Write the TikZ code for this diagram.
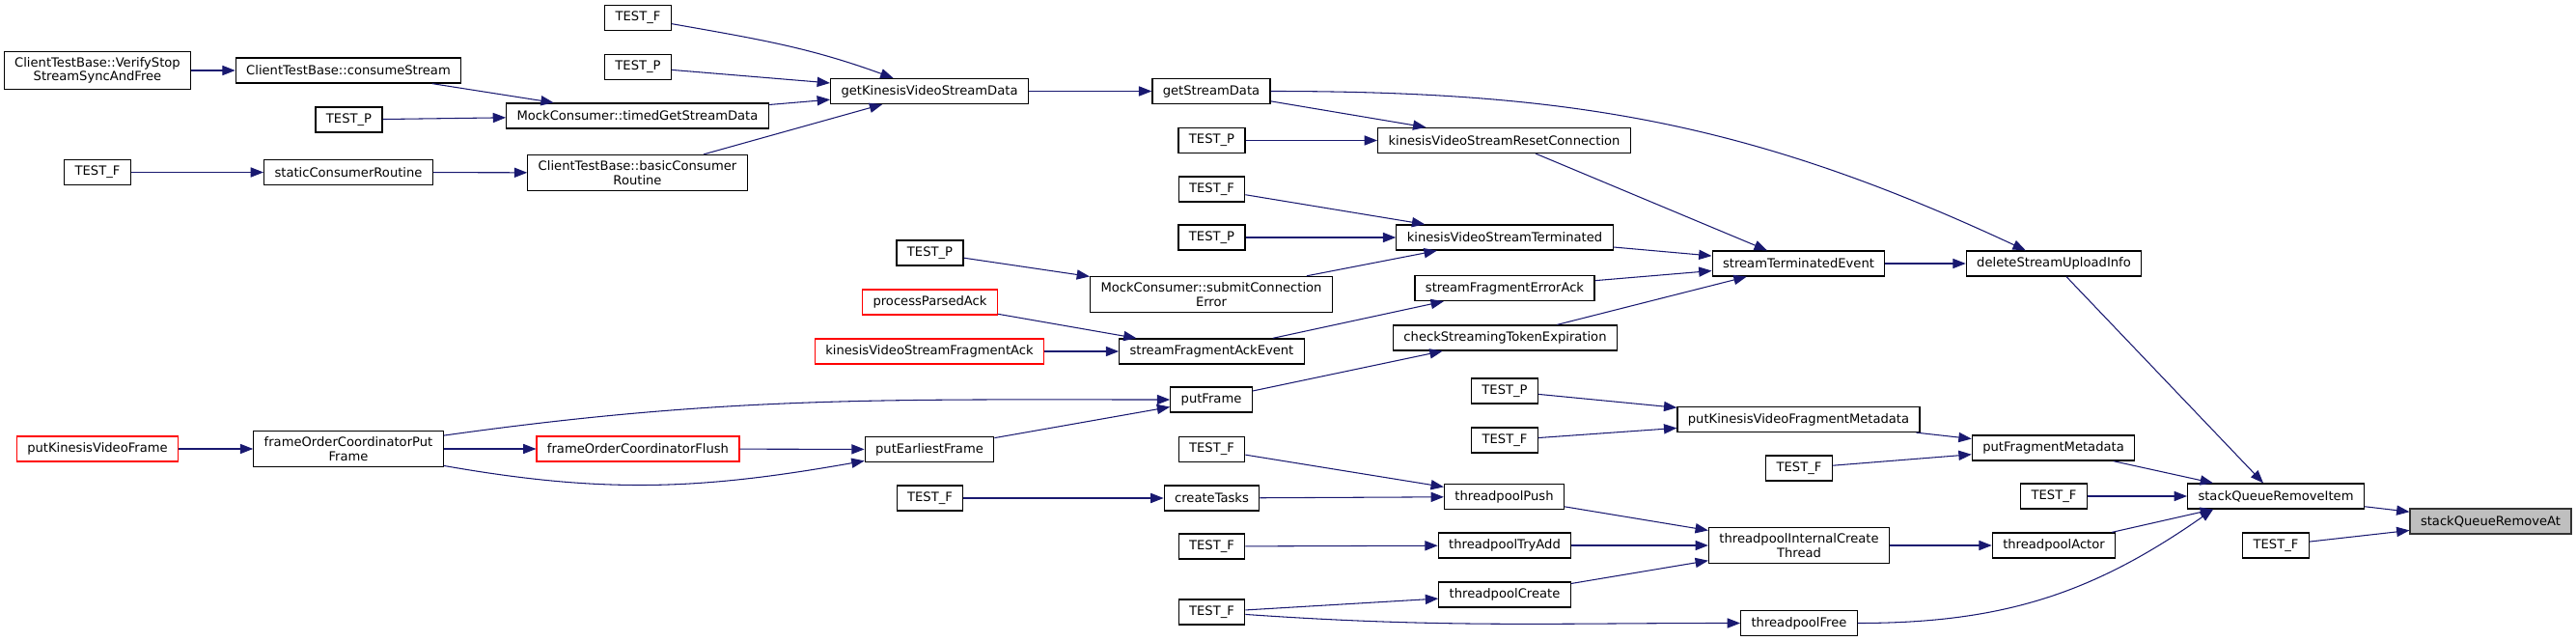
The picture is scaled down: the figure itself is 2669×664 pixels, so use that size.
\documentclass[tikz,border=0pt]{standalone}
\usepackage{fontspec}
\setmainfont{DejaVu Sans}
\usetikzlibrary{arrows.meta}
\definecolor{edgeblue}{RGB}{25,25,112}
\definecolor{rootgray}{RGB}{191,191,191}
\tikzset{
  fn/.style={draw=black, line width=0.35pt, rectangle, inner xsep=3.1pt, inner ysep=1.8pt,
    minimum height=7.4pt, align=center, font=\fontsize{3.73pt}{4.07pt}\selectfont},
  trunc/.style={fn, draw=red},
  root/.style={fn, fill=rootgray, draw=black!80},
  call/.style={-{Triangle[length=3.8pt,width=2.9pt]}, draw=edgeblue, line width=0.3pt},
}
\begin{document}
\begin{tikzpicture}[x=0.01cm, y=0.01cm]
			\useasboundingbox (0,0) rectangle (2669,-664);
			\node[fn] (verify) at (101,-73) {ClientTestBase::VerifyStop\\StreamSyncAndFree};
			\node[fn] (tfstatic) at (101,-178.5) {TEST\_F};
			\node[trunc] (putkvf) at (101,-465) {putKinesisVideoFrame};

			\node[fn] (consume) at (361,-73) {ClientTestBase::consumeStream};
			\node[fn] (tptimed) at (361.5,-124) {TEST\_P};
			\node[fn] (staticcr) at (361,-178.5) {staticConsumerRoutine};
			\node[fn] (focput) at (361,-465) {frameOrderCoordinatorPut\\Frame};

			\node[fn] (tfgetk) at (661,-18.5) {TEST\_F};
			\node[fn] (tpgetk) at (661,-69.5) {TEST\_P};
			\node[fn] (timed) at (660.5,-120) {MockConsumer::timedGetStreamData};
			\node[fn] (basic) at (660.5,-179) {ClientTestBase::basicConsumer\\Routine};
			\node[trunc] (focflush) at (661,-465) {frameOrderCoordinatorFlush};

			\node[fn] (getk) at (963,-94.5) {getKinesisVideoStreamData};
			\node[fn] (tpsubmit) at (963.5,-262) {TEST\_P};
			\node[trunc] (parsedack) at (963.5,-313) {processParsedAck};
			\node[trunc] (fragack) at (963,-364) {kinesisVideoStreamFragmentAck};
			\node[fn] (putearly) at (963,-465.5) {putEarliestFrame};
			\node[fn] (tftasks) at (963.5,-516) {TEST\_F};

			\node[fn] (getsd) at (1255,-94.5) {getStreamData};
			\node[fn] (tpreset) at (1255.5,-145.5) {TEST\_P};
			\node[fn] (tfterm) at (1255.5,-196) {TEST\_F};
			\node[fn] (tpterm) at (1255.5,-246) {TEST\_P};
			\node[fn] (submit) at (1255,-305) {MockConsumer::submitConnection\\Error};
			\node[fn] (ackevent) at (1255.5,-364) {streamFragmentAckEvent};
			\node[fn] (putframe) at (1255,-414) {putFrame};
			\node[fn] (tfpush) at (1255.5,-465.5) {TEST\_F};
			\node[fn] (tasks) at (1255.5,-516) {createTasks};
			\node[fn] (tftryadd) at (1255.5,-566) {TEST\_F};
			\node[fn] (tfcreate) at (1255.5,-634) {TEST\_F};

			\node[fn] (reset) at (1558.5,-145.5) {kinesisVideoStreamResetConnection};
			\node[fn] (terminated) at (1559,-246) {kinesisVideoStreamTerminated};
			\node[fn] (errorack) at (1559,-298.5) {streamFragmentErrorAck};
			\node[fn] (checktoken) at (1559.5,-350) {checkStreamingTokenExpiration};
			\node[fn] (tpmeta) at (1559,-405) {TEST\_P};
			\node[fn] (tfmeta) at (1559,-456) {TEST\_F};
			\node[fn] (push) at (1558.5,-514.5) {threadpoolPush};
			\node[fn] (tryadd) at (1559,-565) {threadpoolTryAdd};
			\node[fn] (create) at (1559,-616) {threadpoolCreate};

			\node[fn] (stevent) at (1863.5,-273) {streamTerminatedEvent};
			\node[fn] (kvmeta) at (1863.5,-434.5) {putKinesisVideoFragmentMetadata};
			\node[fn] (tfputmeta) at (1864,-485) {TEST\_F};
			\node[fn] (internal) at (1864,-565) {threadpoolInternalCreate\\Thread};
			\node[fn] (free) at (1864,-645.5) {threadpoolFree};

			\node[fn] (delinfo) at (2128,-273) {deleteStreamUploadInfo};
			\node[fn] (putmeta) at (2127.5,-464) {putFragmentMetadata};
			\node[fn] (tfremitem) at (2128,-514) {TEST\_F};
			\node[fn] (actor) at (2128,-565) {threadpoolActor};

			\node[fn] (remitem) at (2358,-514) {stackQueueRemoveItem};
			\node[fn] (tfremat) at (2358,-565) {TEST\_F};
			\node[root] (remat) at (2580.5,-540) {stackQueueRemoveAt};

			\draw[call] (tfgetk) to[out=-10,in=160] (getk);
			\draw[call] (tpgetk) -- (getk);
			\draw[call] (timed) -- (getk);
			\draw[call] (basic) -- (getk);
			\draw[call] (verify) -- (consume);
			\draw[call] (consume) -- (timed);
			\draw[call] (tptimed) -- (timed);
			\draw[call] (tfstatic) -- (staticcr);
			\draw[call] (staticcr) -- (basic);
			\draw[call] (getk) -- (getsd);
			\draw[call] (getsd.east) to[out=0,in=155] (delinfo);
			\draw[call] (getsd) -- (reset);
			\draw[call] (tpreset) -- (reset);
			\draw[call] (reset) -- (stevent);
			\draw[call] (tfterm) -- (terminated);
			\draw[call] (tpterm) -- (terminated);
			\draw[call] (submit) -- (terminated);
			\draw[call] (tpsubmit) -- (submit);
			\draw[call] (terminated) -- (stevent);
			\draw[call] (errorack) -- (stevent);
			\draw[call] (checktoken) -- (stevent);
			\draw[call] (stevent) -- (delinfo);
			\draw[call] (delinfo) -- (remitem);
			\draw[call] (parsedack) -- (ackevent);
			\draw[call] (fragack) -- (ackevent);
			\draw[call] (ackevent) -- (errorack);
			\draw[call] (putkvf) -- (focput);
			\draw[call] (focput) to[out=8,in=180] (putframe);
			\draw[call] (focput) -- (focflush);
			\draw[call] (focput) to[out=-10,in=190] (putearly);
			\draw[call] (focflush) -- (putearly);
			\draw[call] (putearly) -- (putframe);
			\draw[call] (putframe) -- (checktoken);
			\draw[call] (tpmeta) -- (kvmeta);
			\draw[call] (tfmeta) -- (kvmeta);
			\draw[call] (kvmeta) -- (putmeta);
			\draw[call] (tfputmeta) -- (putmeta);
			\draw[call] (putmeta) -- ([xshift=0.27cm]remitem.north west);
			\draw[call] (tfremitem) -- (remitem);
			\draw[call] (remitem) -- (remat);
			\draw[call] (tfremat) -- (remat);
			\draw[call] (tfpush) -- (push);
			\draw[call] (tftasks) -- (tasks);
			\draw[call] (tasks) -- (push);
			\draw[call] (push) -- (internal);
			\draw[call] (tftryadd) -- (tryadd);
			\draw[call] (tryadd) -- (internal);
			\draw[call] (create) -- (internal);
			\draw[call] (tfcreate) -- (create);
			\draw[call] (tfcreate) to[out=-4,in=180] (free);
			\draw[call] (internal) -- (actor);
			\draw[call] (actor) -- ([xshift=0.27cm]remitem.south west);
			\draw[call] (free.east) to[out=0,in=-145] ([xshift=0.27cm]remitem.south west);
		\end{tikzpicture}
\end{document}
